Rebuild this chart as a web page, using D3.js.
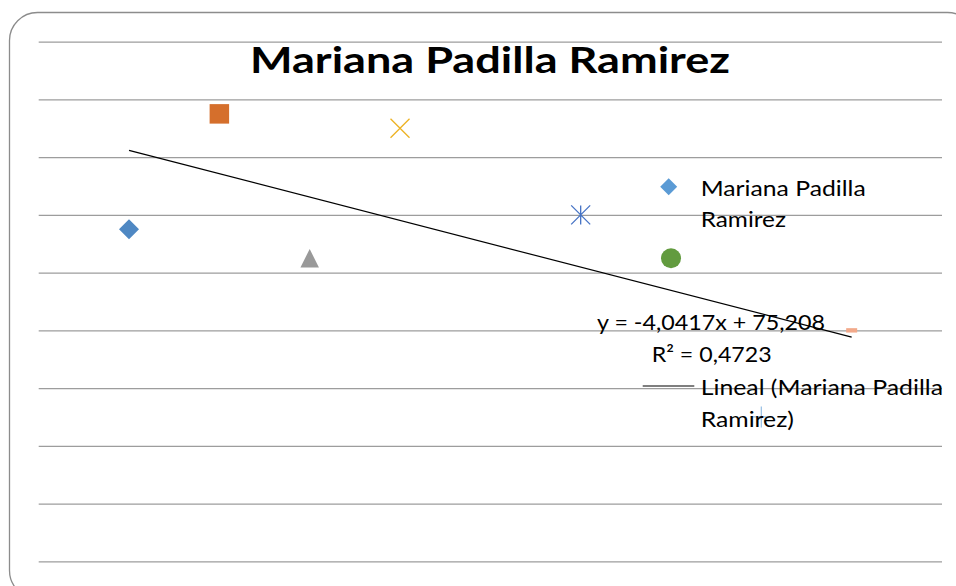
<!DOCTYPE html>
<html>
<head>
<meta charset="utf-8">
<script src="https://cdn.jsdelivr.net/npm/d3@7"></script>
<style>
  html, body { margin: 0; padding: 0; background: #fff; }
  svg { display: block; }
  text { font-family: Lato, "Open Sans", sans-serif; fill: #000; }
</style>
</head>
<body>
<div id="chart"></div>
<script>
// values
const title = "Mariana Padilla Ramirez";
const xValues = [1, 2, 3, 4, 6, 7, 8, 9];
const yValues = [57.5, 77.5, 52.5, 75, 60, 52.5, 25, 40];
const markerKinds = ["diamond", "square", "triangle", "x", "star", "circle", "plus", "dash"];
const markerColors = ["#4f88c3", "#d56f2c", "#999999", "#edb223", "#4472c4", "#629b3f", "#9dc3e6", "#f2a98a"];
const yTicks = [0, 10, 20, 30, 40, 50, 60, 70, 80, 90];
const legendSeries = ["Mariana Padilla", "Ramirez"];
const legendTrend = ["Lineal (Mariana Padilla", "Ramirez)"];

const W = 956, H = 586;
const plot = { left: 38.7, right: 942, top: 41.7, bottom: 561.3 };

const x = d3.scaleLinear().domain([0, 10]).range([plot.left, plot.right]);
const y = d3.scaleLinear().domain([0, 90]).range([plot.bottom, plot.top]);

// excel-like marker shapes
const shapes = {
    diamond: { draw(c, s) { const r = Math.sqrt(s) / 2; c.moveTo(0, -r); c.lineTo(r, 0); c.lineTo(0, r); c.lineTo(-r, 0); c.closePath(); } },
    square: { draw(c, s) { const r = Math.sqrt(s) / 2; c.rect(-r, -r, 2 * r, 2 * r); } },
    triangle: { draw(c, s) { const r = Math.sqrt(s) / 2; c.moveTo(0, -r); c.lineTo(r, r); c.lineTo(-r, r); c.closePath(); } },
    circle: { draw(c, s) { const r = Math.sqrt(s) / 2; c.moveTo(r, 0); c.arc(0, 0, r, 0, 2 * Math.PI); } },
    x: { draw(c, s) { const r = Math.sqrt(s) / 2; c.moveTo(-r, -r); c.lineTo(r, r); c.moveTo(r, -r); c.lineTo(-r, r); } },
    star: { draw(c, s) { const r = Math.sqrt(s) / 2; c.moveTo(-r, -r); c.lineTo(r, r); c.moveTo(r, -r); c.lineTo(-r, r); c.moveTo(0, -r); c.lineTo(0, r); } },
    plus: { draw(c, s) { const r = Math.sqrt(s) / 2; c.moveTo(-r, 0); c.lineTo(r, 0); c.moveTo(0, -r); c.lineTo(0, r); } },
    dash: { draw(c, s) { const r = Math.sqrt(s) / 2; c.rect(-r, -2.2, 2 * r, 4.4); } }
};
const markerSize = { diamond: 20, square: 19.5, triangle: 18.5, circle: 20, x: 19, star: 19, plus: 21, dash: 11 };
const stroked = new Set(["x", "star", "plus"]);

const svg = d3.select("#chart").append("svg")
    .attr("width", W)
    .attr("height", H);

// chart frame with rounded corners (runs past the picture edges)
svg.append("rect")
    .attr("x", 9.5).attr("y", 12.5)
    .attr("width", 966).attr("height", 586)
    .attr("rx", 28).attr("ry", 28)
    .attr("fill", "#fff")
    .attr("stroke", "#8c8c8c")
    .attr("stroke-width", 1.3);

// horizontal gridlines
const grid = svg.append("g")
    .attr("class", "grid")
    .attr("transform", "translate(" + plot.left + ",0)")
    .call(d3.axisLeft(y).tickValues(yTicks).tickSize(-(plot.right - plot.left)).tickFormat(""));
grid.select(".domain").remove();
grid.selectAll("line").attr("stroke", "#9d9d9d").attr("stroke-width", 1.3);

// title
svg.append("text")
    .attr("x", 490).attr("y", 73.3)
    .attr("text-anchor", "middle")
    .attr("font-size", 36).attr("font-weight", 700)
    .attr("textLength", 480).attr("lengthAdjust", "spacingAndGlyphs")
    .text(title);

const points = xValues.map((v, i) => ({ x: v, y: yValues[i], kind: markerKinds[i], color: markerColors[i] }));

// linear trendline (least squares)
const mx = d3.mean(xValues), my = d3.mean(yValues);
const sxy = d3.sum(xValues, (v, i) => (v - mx) * (yValues[i] - my));
const sxx = d3.sum(xValues, v => (v - mx) * (v - mx));
const syy = d3.sum(yValues, v => (v - my) * (v - my));
const slope = sxy / sxx;
const intercept = my - slope * mx;
const r2 = (sxy * sxy) / (sxx * syy);
const xr = d3.extent(xValues);

svg.append("path")
    .datum(xr.map(v => [v, intercept + slope * v]))
    .attr("d", d3.line().x(d => x(d[0])).y(d => y(d[1])))
    .attr("fill", "none")
    .attr("stroke", "#000")
    .attr("stroke-width", 1.2);

// points
svg.append("g").selectAll("path")
    .data(points)
    .join("path")
    .attr("transform", d => "translate(" + x(d.x) + "," + y(d.y) + ")")
    .attr("d", d => d3.symbol(shapes[d.kind], markerSize[d.kind] * markerSize[d.kind])())
    .attr("fill", d => stroked.has(d.kind) ? "none" : d.color)
    .attr("stroke", d => stroked.has(d.kind) ? d.color : "none")
    .attr("stroke-width", 1.3);

const fmt = (v, n) => v.toFixed(n).replace(".", ",");

// equation label
const eq = svg.append("g").attr("font-size", 22);
eq.append("text")
    .attr("x", 711).attr("y", 330)
    .attr("text-anchor", "middle")
    .attr("textLength", 228).attr("lengthAdjust", "spacingAndGlyphs")
    .text("y = " + fmt(slope, 4) + "x + " + fmt(intercept, 3));
eq.append("text")
    .attr("x", 711.7).attr("y", 362.3)
    .attr("text-anchor", "middle")
    .attr("textLength", 120).attr("lengthAdjust", "spacingAndGlyphs")
    .text("R² = " + fmt(r2, 4));

// legend
const legend = svg.append("g").attr("font-size", 22);
legend.append("path")
    .attr("transform", "translate(668.7,186.7)")
    .attr("d", d3.symbol(shapes.diamond, 17 * 17)())
    .attr("fill", "#5b9bd5");
legend.selectAll("text.series")
    .data(legendSeries)
    .join("text")
    .attr("class", "series")
    .attr("x", 700.7)
    .attr("y", (d, i) => 195.7 + i * 31.6)
    .attr("textLength", (d, i) => [165, 85.3][i])
    .attr("lengthAdjust", "spacingAndGlyphs")
    .text(d => d);

legend.append("line")
    .attr("x1", 642.7).attr("x2", 694.3)
    .attr("y1", 386).attr("y2", 386)
    .attr("stroke", "#000").attr("stroke-width", 1.2);
legend.selectAll("text.trend")
    .data(legendTrend)
    .join("text")
    .attr("class", "trend")
    .attr("x", 700.7)
    .attr("y", (d, i) => 395 + i * 31.6)
    .attr("textLength", (d, i) => [242.3, 93.3][i])
    .attr("lengthAdjust", "spacingAndGlyphs")
    .text(d => d);
</script>
</body>
</html>
